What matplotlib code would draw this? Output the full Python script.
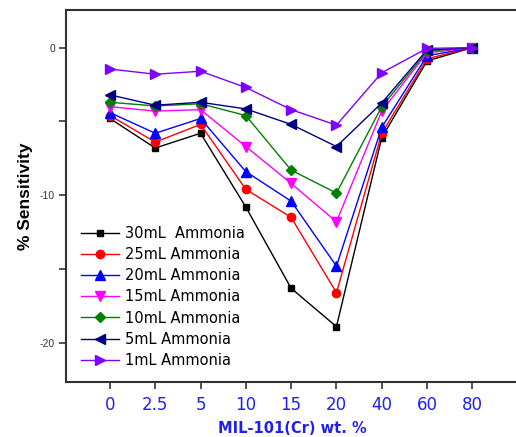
import matplotlib.pyplot as plt
import numpy as np

x_labels = ["0", "2.5", "5", "10", "15", "20", "40", "60", "80"]

series_names = ["30mL  Ammonia", "25mL Ammonia", "20mL Ammonia", "15mL Ammonia",
                "10mL Ammonia", "5mL Ammonia", "1mL Ammonia"]

ml30 = [-4.8, -6.8, -5.8, -10.8, -16.3, -18.9, -6.1, -0.9, 0.0]
ml25 = [-4.6, -6.4, -5.2, -9.6, -11.5, -16.6, -5.8, -0.75, 0.0]
ml20 = [-4.4, -5.8, -4.8, -8.4, -10.4, -14.8, -5.4, -0.55, 0.0]
ml15 = [-4.0, -4.3, -4.2, -6.7, -9.2, -11.8, -4.3, -0.35, 0.0]
ml10 = [-3.7, -3.95, -3.8, -4.6, -8.3, -9.85, -4.0, -0.25, 0.0]
ml5 = [-3.2, -3.9, -3.7, -4.15, -5.2, -6.7, -3.75, -0.15, 0.0]
ml1 = [-1.45, -1.8, -1.6, -2.7, -4.2, -5.25, -1.7, -0.05, 0.0]

all_series = [ml30, ml25, ml20, ml15, ml10, ml5, ml1]
colors = ["black", "red", "blue", "magenta", "green", "#000080", "#8000ff"]
markers = ["s", "o", "^", "v", "D", "<", ">"]
msizes = [5, 6, 6.5, 6.5, 5, 6.5, 6.5]

fig = plt.figure(figsize=(5.16, 4.37), dpi=100)
ax = fig.add_axes([66 / 516, 1 - 382 / 437, 453 / 516, 372 / 437])

pos = np.arange(len(x_labels))
for vals, name, c, m, ms in zip(all_series, series_names, colors, markers, msizes):
    ax.plot(pos, vals, color=c, marker=m, markersize=ms, linewidth=1.0, label=name)

ax.set_xlim(-0.97, 9.03)
ax.set_ylim(-22.65, 2.55)

ax.set_xticks(pos)
ax.set_xticklabels(x_labels, color="#2020ee", fontsize=12, family="DejaVu Sans")
ax.set_yticks([0, -10, -20])
ax.set_yticklabels(["0", "-10", "-20"], fontsize=7.5, color="#333333", family="Liberation Sans")
ax.set_yticks([-5, -15], minor=True)
ax.tick_params(axis="both", which="both", direction="out", length=5, width=1.2, colors="#333333")
ax.tick_params(axis="x", labelcolor="#2020ee", pad=5)
ax.tick_params(axis="y", labelcolor="#333333", pad=3)

for s in ax.spines.values():
    s.set_linewidth(1.5)
    s.set_color("#333333")
ax.spines["right"].set_visible(False)

ax.set_xlabel("MIL-101(Cr) wt. %", fontsize=10.5, fontweight="bold", color="#2020ee",
              family="DejaVu Sans", labelpad=5)
ax.set_ylabel("% Sensitivity", fontsize=12.5, fontweight="bold", family="Liberation Sans",
              labelpad=5)

ax.legend(loc="upper left", bbox_to_anchor=(0.02, 0.435), frameon=False,
          handlelength=2.6, handletextpad=0.45, labelspacing=0.42, borderaxespad=0,
          prop={"family": "DejaVu Sans", "size": 10.5})

fig.savefig("out.png", dpi=100)
